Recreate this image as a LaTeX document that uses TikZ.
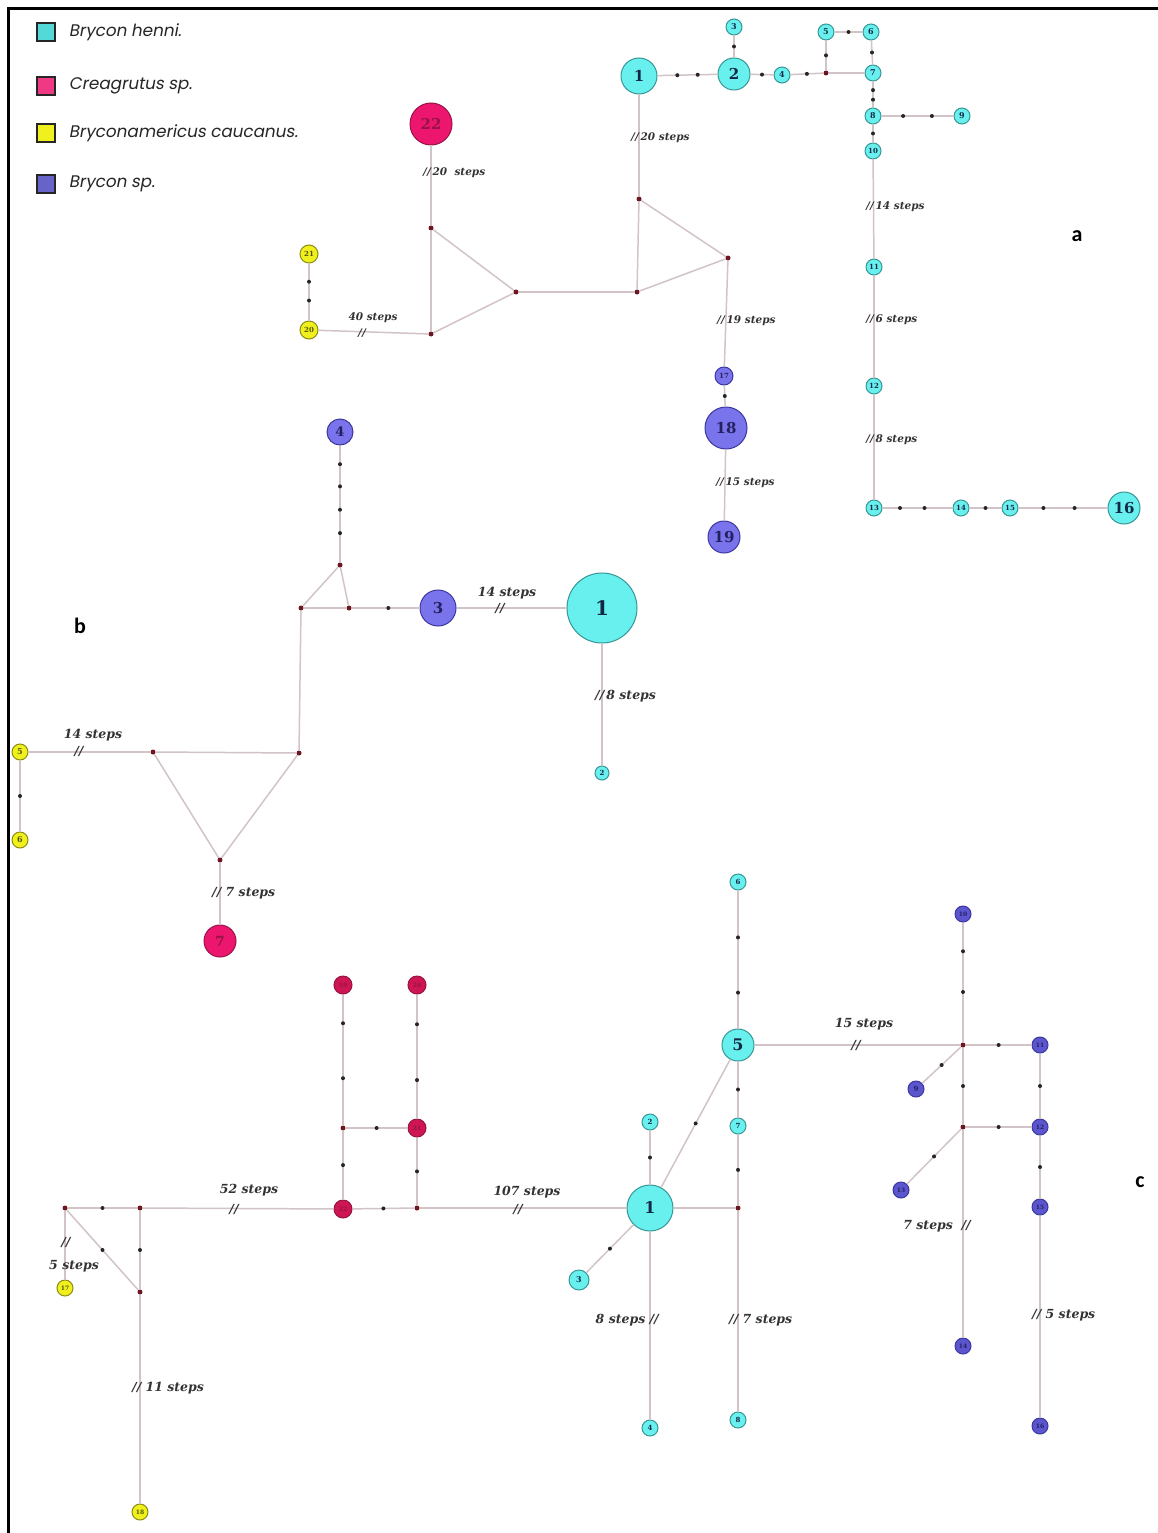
\documentclass[tikz,border=0pt]{standalone}
\usepackage{fontspec}
\setmainfont{DejaVu Serif}
\newfontfamily\legfont[FakeSlant=0.18]{Poppins}
\newfontfamily\panelfont{Carlito}
\usetikzlibrary{positioning}

\definecolor{hcyan}{RGB}{104,240,238}
\definecolor{hcyanD}{RGB}{55,150,150}
\definecolor{hmag}{RGB}{236,22,110}
\definecolor{hmagD}{RGB}{150,20,70}
\definecolor{hcrim}{RGB}{206,22,82}
\definecolor{hyel}{RGB}{240,240,30}
\definecolor{hyelD}{RGB}{140,140,20}
\definecolor{hblue}{RGB}{122,116,236}
\definecolor{hblueD}{RGB}{60,55,160}
\definecolor{hnavy}{RGB}{92,86,206}
\definecolor{edgec}{RGB}{210,196,198}
\definecolor{mvred}{RGB}{110,22,34}
\definecolor{txtdark}{RGB}{20,40,70}

\tikzset{
  hap/.style={circle,draw,line width=1pt,inner sep=0pt},
  sz/.style 2 args={minimum size=#1pt,font=\bfseries\fontsize{#2}{#2}\selectfont},
  bh/.style={hap,fill=hcyan,draw=hcyanD,text=txtdark},
  cr/.style={hap,fill=hmag,draw=hmagD,text=hmagD},
  crc/.style={hap,fill=hcrim,draw=hmagD,text=hmagD},
  bc/.style={hap,fill=hyel,draw=hyelD,text=hyelD!60!black},
  bs/.style={hap,fill=hblue,draw=hblueD,text=hblueD!60!black},
  bsc/.style={hap,fill=hnavy,draw=hblueD,text=hblueD!60!black},
  mv/.style={circle,fill=mvred,inner sep=0pt,minimum size=5pt},
  dot/.style={circle,fill=black!85,inner sep=0pt,minimum size=4pt},
  lnk/.style={draw=edgec,line width=1.5pt},
  stpa/.style={font=\bfseries\itshape\fontsize{10.5}{10.5}\selectfont,text=black!80,inner sep=1pt},
  stpb/.style={font=\bfseries\itshape\fontsize{12.5}{12.5}\selectfont,text=black!80,inner sep=1pt},
  legsq/.style={draw=black!85,line width=1.5pt,minimum size=18pt,inner sep=0pt},
  legtx/.style={font=\legfont\fontsize{16.8}{16.8}\selectfont,text=black!85,inner sep=0pt},
  panel/.style={font=\panelfont\bfseries\fontsize{22}{22}\selectfont},
}

\begin{document}
\begin{tikzpicture}[x=1pt,y=-1pt]
    \useasboundingbox (0,0) rectangle (1158,1533);
    \fill[white] (0,0) rectangle (1158,1533);
    \draw[line width=3pt] (8.5,1533) -- (8.5,8.5) -- (1158,8.5);

    % legend
    \node[legsq,fill=hcyan!80!teal]  (k1) at (46,32)  {};
    \node[legsq,fill=hmag!85!white]  (k2) at (46,86)  {};
    \node[legsq,fill=hyel]           (k3) at (46,133) {};
    \node[legsq,fill=hblue!85!black] (k4) at (46,184) {};
    \node[legtx,right=13pt of k1] (t1) {Brycon henni.};
    \node[legtx,right=13pt of k2] (t2) {Creagrutus sp.};
    \node[legtx,right=13pt of k3] (t3) {Bryconamericus caucanus.};
    \node[legtx,right=13pt of k4] (t4) {Brycon sp.};

    % panel letters
    \node[panel] (pa) at (1077,236)  {a};
    \node[panel] (pb) at (80,626)    {b};
    \node[panel] (pc) at (1140,1182) {c};

    % ---- network a
    \node[bh,sz={36}{15}] (a1)  at (639,76)   {1};
    \node[bh,sz={32}{15}] (a2)  at (734,74)   {2};
    \node[bh,sz={16}{8}]  (a3)  at (734,27)   {3};
    \node[bh,sz={16}{8}]  (a4)  at (782,75)   {4};
    \node[bh,sz={16}{8}]  (a5)  at (826,32)   {5};
    \node[bh,sz={16}{8}]  (a6)  at (871,32)   {6};
    \node[bh,sz={16}{8}]  (a7)  at (873,73)   {7};
    \node[bh,sz={16}{8}]  (a8)  at (873,116)  {8};
    \node[bh,sz={16}{8}]  (a9)  at (962,116)  {9};
    \node[bh,sz={16}{7}]  (a10) at (873,151)  {10};
    \node[bh,sz={16}{7}]  (a11) at (874,267)  {11};
    \node[bh,sz={16}{7}]  (a12) at (874,386)  {12};
    \node[bh,sz={16}{7}]  (a13) at (874,508)  {13};
    \node[bh,sz={16}{7}]  (a14) at (961,508)  {14};
    \node[bh,sz={16}{7}]  (a15) at (1010,508) {15};
    \node[bh,sz={32}{15}] (a16) at (1124,508) {16};
    \node[bs,sz={18}{7}]  (a17) at (724,376)  {17};
    \node[bs,sz={42}{15}] (a18) at (726,428)  {18};
    \node[bs,sz={32}{15}] (a19) at (724,537)  {19};
    \node[bc,sz={18}{7}]  (a20) at (309,330)  {20};
    \node[bc,sz={18}{7}]  (a21) at (309,254)  {21};
    \node[cr,sz={42}{15}] (a22) at (431,124)  {22};

    \node[mv] (ma1) at (826,73)  {};
    \node[mv] (ma2) at (639,199) {};
    \node[mv] (ma3) at (728,258) {};
    \node[mv] (ma4) at (637,292) {};
    \node[mv] (ma5) at (516,292) {};
    \node[mv] (ma6) at (431,228) {};
    \node[mv] (ma7) at (431,334) {};

    \path[lnk] (a1)  edge node[dot,pos=.33]{} node[dot,pos=.67]{} (a2)
               (a2)  edge node[dot]{} (a3)
               (a2)  edge node[dot]{} (a4)
               (a4)  edge node[dot,pos=.5]{} (ma1)
               (ma1) edge node[dot]{} (a5)
               (ma1) edge (a7)
               (a5)  edge node[dot]{} (a6)
               (a6)  edge node[dot]{} (a7)
               (a7)  edge node[dot,pos=.33]{} node[dot,pos=.7]{} (a8)
               (a8)  edge node[dot,pos=.3]{} node[dot,pos=.7]{} (a9)
               (a8)  edge node[dot]{} (a10)
               (a10) edge (a11)
               (a11) edge (a12)
               (a12) edge (a13)
               (a13) edge node[dot,pos=.25]{} node[dot,pos=.6]{} (a14)
               (a14) edge node[dot]{} (a15)
               (a15) edge node[dot,pos=.28]{} node[dot,pos=.63]{} (a16)
               (a1)  edge (ma2)
               (ma2) edge (ma3)
               (ma2) edge (ma4)
               (ma4) edge (ma3)
               (ma4) edge (ma5)
               (ma5) edge (ma6)
               (ma5) edge (ma7)
               (ma6) edge (ma7)
               (ma6) edge (a22)
               (ma7) edge (a20)
               (a20) edge node[dot,pos=.35]{} node[dot,pos=.68]{} (a21)
               (ma3) edge (a17)
               (a17) edge node[dot]{} (a18)
               (a18) edge (a19)
               ;

    \node[stpa,anchor=west] (sa1) at (630,138) {//\,20 steps};
    \node[stpa,anchor=west] (sa2) at (422,173) {//\,20~ steps};
    \node[stpa]             (sa3) at (373,318) {40 steps};
    \node[stpa]             (sa4) at (362,333) {//};
    \node[stpa,anchor=west] (sa5) at (716,321) {//\,19 steps};
    \node[stpa,anchor=west] (sa6) at (865,207) {//\,14 steps};
    \node[stpa,anchor=west] (sa7) at (865,320) {//\,6 steps};
    \node[stpa,anchor=west] (sa8) at (865,440) {//\,8 steps};
    \node[stpa,anchor=west] (sa9) at (715,483) {//\,15 steps};

    % ---- network b
    \node[bh,sz={70}{20}] (b1) at (602,608) {1};
    \node[bh,sz={14}{7}]  (b2) at (602,773) {2};
    \node[bs,sz={36}{15}] (b3) at (438,608) {3};
    \node[bs,sz={26}{13}] (b4) at (340,432) {4};
    \node[bc,sz={16}{8}]  (b5) at (20,752)  {5};
    \node[bc,sz={16}{8}]  (b6) at (20,840)  {6};
    \node[cr,sz={32}{14}] (b7) at (220,941) {7};

    \node[mv] (mb1) at (349,608) {};
    \node[mv] (mb2) at (301,608) {};
    \node[mv] (mb3) at (340,565) {};
    \node[mv] (mb4) at (299,753) {};
    \node[mv] (mb5) at (153,752) {};
    \node[mv] (mb6) at (220,860) {};

    \path[lnk] (b3)  edge node[dot,pos=.46]{} (mb1)
               (mb1) edge (mb2)
               (mb2) edge (mb3)
               (mb1) edge (mb3)
               (mb3) edge node[dot,pos=.25]{} node[dot,pos=.45]{} node[dot,pos=.65]{} node[dot,pos=.84]{} (b4)
               (mb2) edge (mb4)
               (mb4) edge (mb5)
               (mb4) edge (mb6)
               (mb5) edge (mb6)
               (mb6) edge (b7)
               (mb5) edge (b5)
               (b5)  edge node[dot]{} (b6)
               (b3)  edge (b1)
               (b1)  edge (b2)
               ;

    \node[stpb]             (sb1) at (507,593) {14 steps};
    \node[stpb]             (sb2) at (500,609) {//};
    \node[stpb,anchor=west] (sb3) at (594,696) {//\,8 steps};
    \node[stpb]             (sb4) at (93,735)  {14 steps};
    \node[stpb]             (sb5) at (79,752)  {//};
    \node[stpb,anchor=west] (sb6) at (211,893) {//\ 7 steps};

    % ---- network c
    \node[bh,sz={46}{16}] (c1) at (650,1208) {1};
    \node[bh,sz={16}{7}]  (c2) at (650,1122) {2};
    \node[bh,sz={20}{8}]  (c3) at (579,1280) {3};
    \node[bh,sz={16}{7}]  (c4) at (650,1428) {4};
    \node[bh,sz={32}{16}] (c5) at (738,1045) {5};
    \node[bh,sz={16}{7}]  (c6) at (738,882)  {6};
    \node[bh,sz={16}{7}]  (c7) at (738,1126) {7};
    \node[bh,sz={16}{7}]  (c8) at (738,1420) {8};
    \node[bsc,sz={16}{7}] (c9)  at (916,1089) {9};
    \node[bsc,sz={16}{6}] (c10) at (963,914)  {10};
    \node[bsc,sz={16}{6}] (c11) at (1040,1045) {11};
    \node[bsc,sz={16}{6}] (c12) at (1040,1127) {12};
    \node[bsc,sz={16}{6}] (c13) at (901,1190) {13};
    \node[bsc,sz={16}{6}] (c14) at (963,1346) {14};
    \node[bsc,sz={16}{6}] (c15) at (1040,1207) {15};
    \node[bsc,sz={16}{6}] (c16) at (1040,1426) {16};
    \node[bc,sz={16}{6}]  (c17) at (65,1288)  {17};
    \node[bc,sz={16}{6}]  (c18) at (140,1512) {18};
    \node[crc,sz={18}{6}] (c19) at (343,985)  {19};
    \node[crc,sz={18}{6}] (c20) at (417,985)  {20};
    \node[crc,sz={18}{6}] (c21) at (417,1128) {21};
    \node[crc,sz={18}{6}] (c22) at (343,1209) {22};

    \node[mv] (mc1) at (738,1208) {};
    \node[mv] (mc2) at (417,1208) {};
    \node[mv] (mc3) at (343,1128) {};
    \node[mv] (mc4) at (140,1208) {};
    \node[mv] (mc5) at (65,1208)  {};
    \node[mv] (mc6) at (140,1292) {};
    \node[mv] (mc7) at (963,1045) {};
    \node[mv] (mc8) at (963,1127) {};

    \path[lnk] (c1)  edge node[dot]{} (c2)
               (c1)  edge node[dot]{} (c3)
               (c1)  edge node[dot]{} (c5)
               (c1)  edge (mc1)
               (mc1) edge node[dot]{} (c7)
               (c7)  edge node[dot]{} (c5)
               (c5)  edge node[dot,pos=.26]{} node[dot,pos=.66]{} (c6)
               (mc1) edge (c8)
               (c1)  edge (c4)
               (c1)  edge (mc2)
               (mc2) edge node[dot]{} (c21)
               (c21) edge node[dot,pos=.31]{} node[dot,pos=.76]{} (c20)
               (mc2) edge node[dot]{} (c22)
               (c22) edge node[dot]{} (mc3)
               (mc3) edge node[dot]{} (c21)
               (mc3) edge node[dot,pos=.36]{} node[dot,pos=.78]{} (c19)
               (c22) edge (mc4)
               (mc4) edge node[dot]{} (mc5)
               (mc5) edge node[dot]{} (mc6)
               (mc4) edge node[dot]{} (mc6)
               (mc6) edge (c18)
               (mc5) edge (c17)
               (c5)  edge (mc7)
               (mc7) edge node[dot,pos=.42]{} node[dot,pos=.76]{} (c10)
               (mc7) edge node[dot]{} (c11)
               (mc7) edge node[dot]{} (c9)
               (mc7) edge node[dot]{} (mc8)
               (mc8) edge node[dot]{} (c12)
               (mc8) edge node[dot]{} (c13)
               (mc8) edge (c14)
               (c11) edge node[dot]{} (c12)
               (c12) edge node[dot]{} (c15)
               (c15) edge (c16)
               ;

    \node[stpb]             (sc1)  at (249,1190) {52 steps};
    \node[stpb]             (sc2)  at (234,1210) {//};
    \node[stpb]             (sc3)  at (527,1192) {107 steps};
    \node[stpb]             (sc4)  at (518,1210) {//};
    \node[stpb]             (sc5)  at (864,1024) {15 steps};
    \node[stpb]             (sc6)  at (856,1046) {//};
    \node[stpb]             (sc7)  at (66,1243)  {//};
    \node[stpb]             (sc8)  at (74,1266)  {5 steps};
    \node[stpb,anchor=west] (sc9)  at (131,1388) {//\ 11 steps};
    \node[stpb,anchor=east] (sc10) at (660,1320) {8 steps\ //};
    \node[stpb,anchor=west] (sc11) at (728,1320) {//\ 7 steps};
    \node[stpb,anchor=east] (sc12) at (972,1226) {7 steps\ \ //};
    \node[stpb,anchor=west] (sc13) at (1031,1315) {//\ 5 steps};
\end{tikzpicture}
\end{document}
